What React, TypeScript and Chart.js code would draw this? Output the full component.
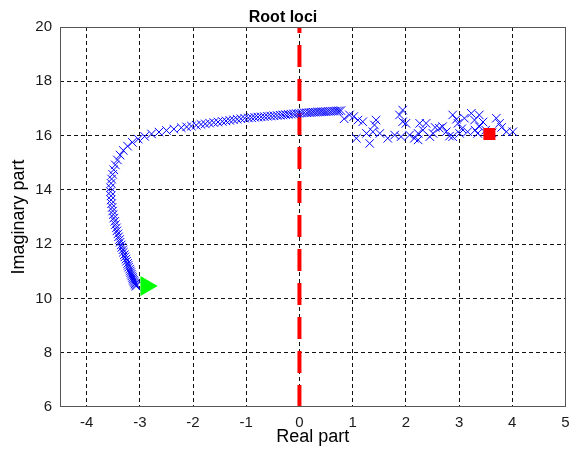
import { useEffect, useRef } from 'react';
import { Chart, registerables } from 'chart.js';

Chart.register(...registerables);

const titleText = 'Root loci';
const xTitle = 'Real part';
const yTitle = 'Imaginary part';

// smooth part of the root locus (blue x markers)
const curveX = [
  -3.07, -3.08, -3.09, -3.10, -3.11, -3.12, -3.13, -3.14, -3.15, -3.16,
  -3.17, -3.18, -3.19, -3.21, -3.22, -3.23, -3.25, -3.26, -3.28, -3.29,
  -3.31, -3.32, -3.34, -3.35, -3.37, -3.38, -3.40, -3.41, -3.43, -3.44,
  -3.46, -3.47, -3.49, -3.50, -3.51, -3.52, -3.53, -3.54, -3.54, -3.55,
  -3.55, -3.54, -3.53, -3.51, -3.49, -3.46, -3.42, -3.37, -3.31, -3.23,
  -3.14, -3.03, -2.91, -2.78, -2.64, -2.50, -2.36, -2.22, -2.12, -2.03,
  -1.94, -1.85, -1.77, -1.69, -1.61, -1.53, -1.45, -1.38, -1.31, -1.24,
  -1.17, -1.10, -1.03, -0.96, -0.90, -0.84, -0.78, -0.72, -0.66, -0.60,
  -0.54, -0.48, -0.42, -0.36, -0.31, -0.26, -0.21, -0.16, -0.11, -0.06,
  -0.01, 0.04, 0.09, 0.14, 0.18, 0.22, 0.26, 0.30, 0.34, 0.38,
  0.42, 0.46, 0.50, 0.54, 0.58, 0.62, 0.66, 0.70, 0.74, 0.78,
];
const curveY = [
  10.45, 10.49, 10.53, 10.57, 10.62, 10.67, 10.72, 10.77, 10.83, 10.89,
  10.95, 11.01, 11.08, 11.15, 11.22, 11.29, 11.37, 11.45, 11.53, 11.61,
  11.70, 11.79, 11.88, 11.97, 12.07, 12.17, 12.27, 12.38, 12.49, 12.60,
  12.72, 12.84, 12.96, 13.09, 13.22, 13.35, 13.49, 13.63, 13.78, 13.93,
  14.08, 14.24, 14.40, 14.57, 14.74, 14.92, 15.10, 15.28, 15.45, 15.61,
  15.75, 15.87, 15.97, 16.06, 16.13, 16.19, 16.24, 16.29, 16.32, 16.35,
  16.38, 16.41, 16.43, 16.46, 16.48, 16.50, 16.52, 16.54, 16.56, 16.58,
  16.60, 16.62, 16.64, 16.65, 16.66, 16.67, 16.68, 16.69, 16.70, 16.71,
  16.72, 16.73, 16.74, 16.75, 16.76, 16.77, 16.78, 16.79, 16.80, 16.81,
  16.82, 16.83, 16.84, 16.84, 16.85, 16.85, 16.86, 16.86, 16.87, 16.87,
  16.88, 16.88, 16.88, 16.89, 16.89, 16.90, 16.90, 16.91, 16.91, 16.92,
];

// scattered part of the locus
const noiseX = [
  0.84, 0.94, 1.02, 1.10, 1.19, 1.07, 1.26, 1.38, 1.41, 1.44,
  1.32, 1.51, 1.66, 1.79, 1.91, 1.88, 1.94, 1.94, 2.00, 2.07,
  2.16, 2.23, 2.23, 2.26, 2.32, 2.38, 2.45, 2.51, 2.55, 2.63,
  2.69, 2.76, 2.82, 2.88, 2.88, 2.95, 2.98, 3.01, 3.05, 3.10,
  3.16, 3.23, 3.29, 3.30, 3.35, 3.38, 3.38, 3.45, 3.50, 3.62,
  3.70, 3.76, 3.80, 3.89, 4.01,
];
const noiseY = [
  16.62, 16.76, 16.70, 16.57, 16.51, 15.90, 16.08, 16.14, 16.39, 16.57,
  15.71, 16.08, 15.90, 16.02, 15.96, 16.76, 16.94, 16.51, 16.45, 16.02,
  15.90, 15.84, 16.08, 16.45, 16.20, 16.45, 15.96, 16.08, 16.30, 16.27,
  16.33, 16.14, 15.98, 15.96, 16.76, 16.60, 16.45, 16.08, 16.25, 16.64,
  16.14, 16.82, 16.57, 16.20, 16.08, 16.33, 16.76, 16.50, 16.20, 16.10,
  16.64, 16.45, 16.30, 16.14, 16.14,
];

const startX = [-2.88];
const startY = [10.46];
const endX = [3.57];
const endY = [16.06];

const zeroLineX = [0, 0];
const zeroLineY = [6, 20];

const xMin = -4.5;
const xMax = 5;
const yMin = 6;
const yMax = 20;

const pts = (xs: number[], ys: number[]) => xs.map((x, i) => ({ x, y: ys[i] }));

const FONT = "'Liberation Sans', Arial, Helvetica, sans-serif";

export default function App() {
  const ref = useRef<HTMLCanvasElement>(null);

  useEffect(() => {
    if (!ref.current) return;
    const boxPlugin = {
      id: 'box',
      afterDatasetsDraw(chart: any) {
        const { ctx, chartArea: a } = chart;
        ctx.save();
        ctx.strokeStyle = '#555';
        ctx.lineWidth = 1;
        const l = Math.round(a.left) + 0.5;
        const t = Math.round(a.top) + 0.5;
        const r = Math.round(a.right) - 0.5;
        const b = Math.round(a.bottom) - 0.5;
        ctx.strokeRect(l, t, r - l, b - t);
        ctx.restore();
      },
    };
    const markerStyle = {
      pointStyle: 'crossRot' as const,
      pointRadius: 6,
      pointBorderWidth: 1,
      borderColor: '#0000ff',
      backgroundColor: '#0000ff',
      showLine: false,
    };
    const chart = new Chart(ref.current, {
      type: 'scatter',
      data: {
        datasets: [
          {
            data: pts(endX, endY),
            pointStyle: 'rect',
            pointRadius: 8.5,
            backgroundColor: '#ff0000',
            borderColor: '#ff0000',
            pointBorderWidth: 0,
          },
          {
            data: pts(startX, startY),
            pointStyle: 'triangle',
            rotation: 90,
            pointRadius: 11.5,
            backgroundColor: '#00ff00',
            borderColor: '#00ff00',
            pointBorderWidth: 0,
          } as any,
          { data: pts(curveX, curveY), ...markerStyle },
          { data: pts(noiseX, noiseY), ...markerStyle },
          {
            data: pts(zeroLineX, zeroLineY),
            showLine: true,
            borderColor: '#ff0000',
            borderWidth: 4,
            borderDash: [22, 12],
            borderCapStyle: 'butt',
            pointRadius: 0,
          } as any,
        ],
      },
      options: {
        animation: false,
        responsive: false,
        events: [],
        layout: { padding: { left: 0, right: 11, top: 0, bottom: 0 } },
        plugins: {
          legend: { display: false },
          tooltip: { enabled: false },
          title: {
            display: true,
            text: titleText,
            color: '#000',
            font: { family: FONT, size: 16, weight: 'bold', lineHeight: 1 },
            padding: { top: 9.5, bottom: 1.5 },
          },
        },
        scales: {
          x: {
            type: 'linear',
            min: xMin,
            max: xMax,
            ticks: {
              stepSize: 1,
              includeBounds: false,
              color: '#1a1a1a',
              font: { family: FONT, size: 15 },
              padding: 7,
              maxRotation: 0,
              autoSkip: false,
            },
            grid: {
              color: (c: any) => (c.tick && (c.tick.value === xMax || c.tick.value === xMin) ? 'rgba(0,0,0,0)' : '#111'),
              lineWidth: 1,
              drawTicks: false,
            },
            border: { display: false, dash: [4, 3] },
            title: {
              display: true,
              text: xTitle,
              color: '#000',
              font: { family: FONT, size: 18, lineHeight: 1.2 },
              padding: { top: 0, bottom: 5 },
            },
            afterFit: (s: any) => {
              s.height = 46;
            },
          },
          y: {
            type: 'linear',
            min: yMin,
            max: yMax,
            ticks: {
              stepSize: 2,
              color: '#1a1a1a',
              font: { family: FONT, size: 15 },
              padding: 8,
            },
            grid: {
              color: (c: any) => (c.tick && (c.tick.value === yMax || c.tick.value === yMin) ? 'rgba(0,0,0,0)' : '#111'),
              lineWidth: 1,
              drawTicks: false,
            },
            border: { display: false, dash: [4, 3] },
            title: {
              display: true,
              text: yTitle,
              color: '#000',
              font: { family: FONT, size: 18, lineHeight: 1.2 },
              padding: { top: 8, bottom: 0 },
            },
            afterFit: (s: any) => {
              s.width = 60;
            },
          },
        },
      },
      plugins: [boxPlugin],
    } as any);
    return () => chart.destroy();
  }, []);

  return (
    <div style={{ position: 'fixed', left: 0, top: 0, width: 577, height: 453, background: '#fff' }}>
      <canvas ref={ref} width={577} height={453} style={{ display: 'block', width: 577, height: 453 }} />
    </div>
  );
}
